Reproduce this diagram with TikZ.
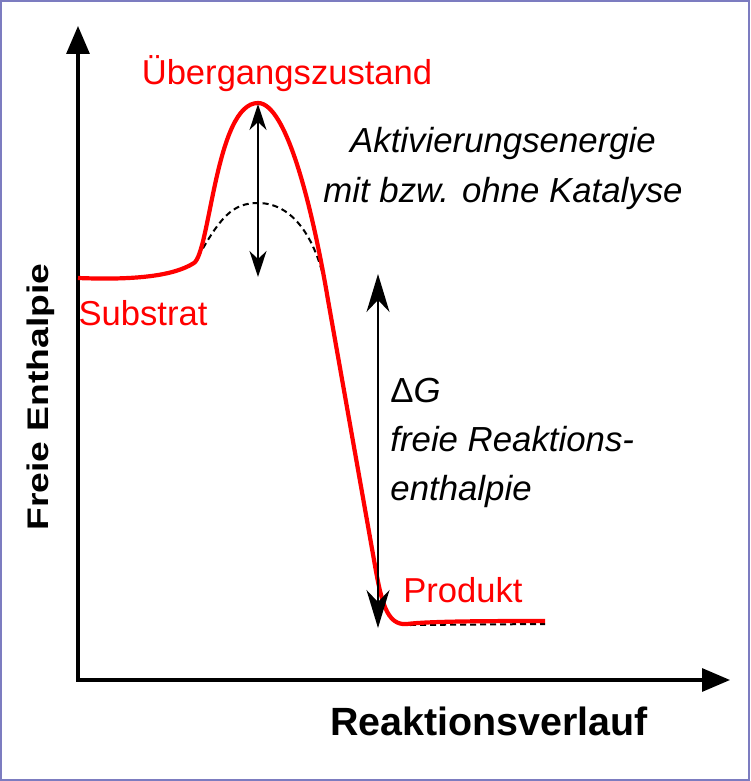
\documentclass[tikz,border=0pt]{standalone}
\usepackage{fontspec}
\setmainfont{Liberation Sans}
\usetikzlibrary{arrows.meta,positioning}
\definecolor{framecol}{RGB}{124,124,192}

\begin{document}
\begin{tikzpicture}[x=0.5pt,y=-0.5pt,
  axis/.style={line width=1.6pt,line join=miter,
    {Triangle[length=14pt,width=11.5pt]}-{Triangle[length=14pt,width=11.5pt]}},
  energy/.style={line width=0.9pt,
    {Stealth[length=13pt,width=8.5pt,inset=4pt]}-{Stealth[length=13pt,width=8.5pt,inset=4pt]}},
  bigenergy/.style={energy,
    {Stealth[length=19pt,width=11.5pt,inset=6pt]}-{Stealth[length=19pt,width=11.5pt,inset=6pt]}},
  reaction/.style={red,line width=2.1pt,line join=round},
  catalysed/.style={black,line width=1pt,dash pattern=on 3pt off 2pt},
  redlabel/.style={text=red,font=\fontsize{17.3}{21}\selectfont,inner sep=0pt},
  note/.style={font=\fontsize{17.4}{21}\selectfont\itshape,inner sep=0pt},
  axislabel/.style={font=\fontsize{19.7}{24}\selectfont\bfseries,inner sep=0pt}]

  \useasboundingbox (0,0) rectangle (750,781);
  \draw[framecol,line width=1pt] (1,1) rectangle (749,780);

  % axes
  \coordinate (ytip) at (78,26);
  \coordinate (origin) at (78,680);
  \coordinate (xtip) at (730,680);
  \draw[axis] (ytip) -- (origin) -- (xtip);
  \node[axislabel,rotate=90,anchor=base] (ylabel) at (48,397)
    {\scalebox{1.25}[1]{\fontsize{14.9}{18}\selectfont Freie Enthalpie}};
  \node[axislabel,anchor=base] (xlabel) at (489,735) {Reaktionsverlauf};

  % without catalysis (dashed) and with it (red)
  \draw[catalysed] (198,257) .. controls (220,218) and (232,203) .. (258,203)
    .. controls (296,203) and (320,245) .. (328,300);
  \draw[catalysed] (410,625) -- (545,624);
  \draw[reaction] (78,278) .. controls (130,280) and (172,277) .. (194,263)
    .. controls (210,252) and (216,103) .. (258,103)
    .. controls (286,103) and (312,205) .. (328,300)
    -- (374,560)
    .. controls (381,600) and (386,626) .. (407,624)
    .. controls (430,621) and (500,621) .. (545,621);

  \coordinate (peak) at (258,104);
  \coordinate (hump) at (258,277);
  \coordinate (dgtop) at (378,274);
  \coordinate (dgbot) at (378,628);
  \draw[energy] (peak) -- (hump);
  \draw[bigenergy] (dgtop) -- (dgbot);

  \node[redlabel,anchor=base] (ts) at (287,84) {Übergangszustand};
  \node[redlabel,anchor=base] (substrat) at (143,325) {Substrat};
  \node[redlabel,anchor=base] (produkt) at (463,602) {Produkt};

  \node[note,anchor=base] (ea) at (503,152) {Aktivierungsenergie};
  \node[note,anchor=base] (eacat) at (503,202) {mit bzw. ohne Katalyse};

  \node[note,anchor=base west] (dg) at (390,402) {{\upshape Δ}G};
  \node[note,anchor=base west] (dgtext) at (390,451) {freie Reaktions-};
  \node[note,anchor=base west] (dgtext2) at (390,500) {enthalpie};
\end{tikzpicture}
\end{document}
